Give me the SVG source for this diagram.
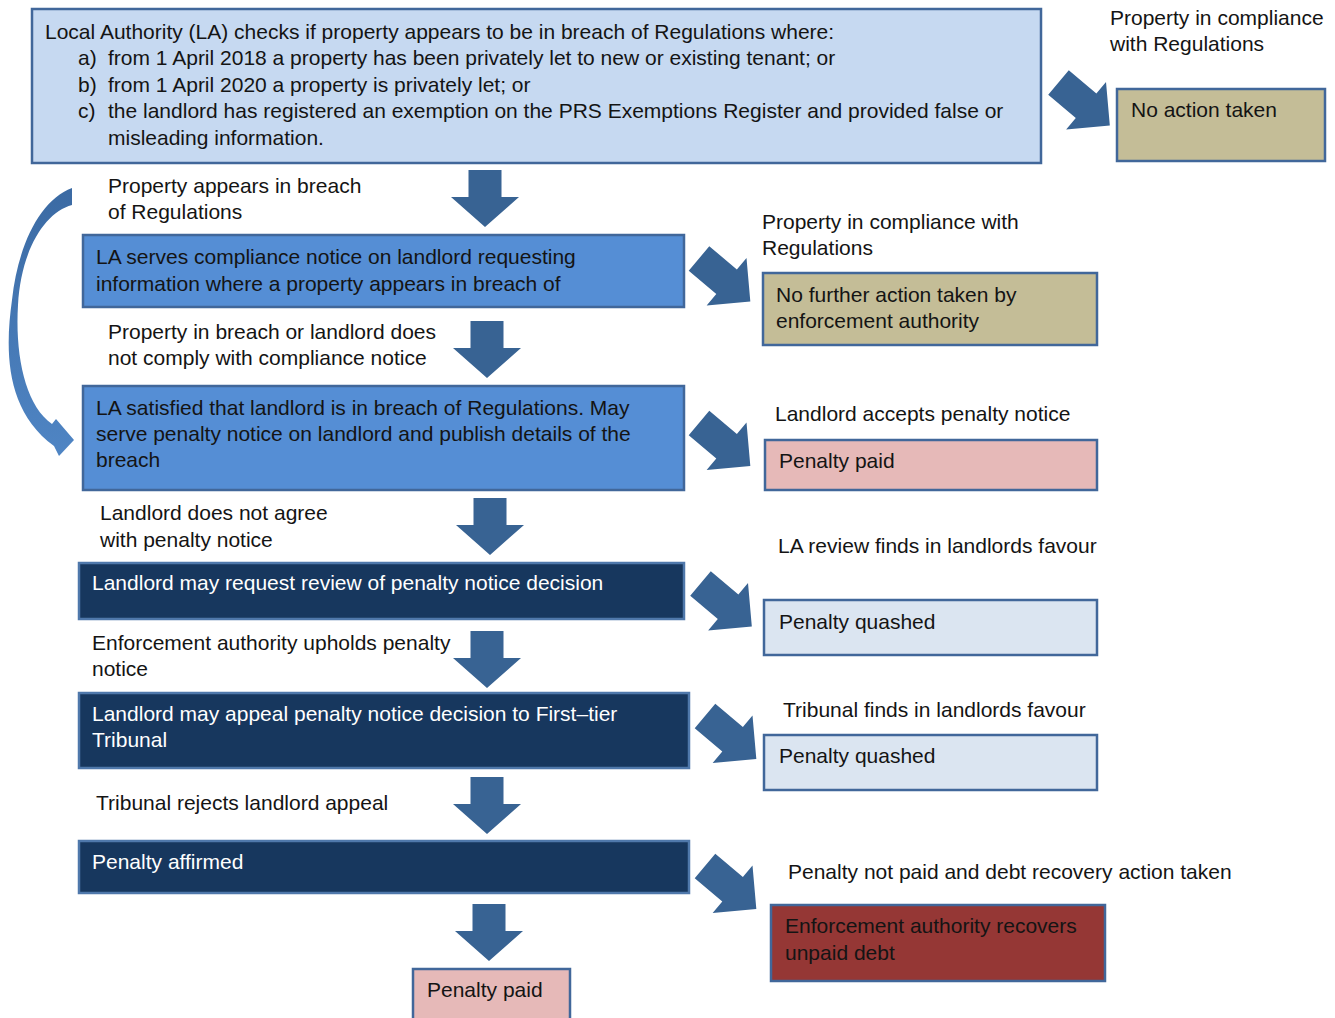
<svg xmlns="http://www.w3.org/2000/svg" width="1335" height="1018" viewBox="0 0 1335 1018">
<style>
text{font-family:"Liberation Sans",Arial,sans-serif;font-size:21px;fill:#141414}
.w{fill:#ffffff}
.bx{stroke:#41679a;stroke-width:2.5}
.top{fill:#c6d9f1}
.mid{fill:#558ed5}
.dark{fill:#17375e;stroke:#4f78ab}
.tan{fill:#c4bd97}
.pink{fill:#e6b9b8}
.lb{fill:#dbe5f1}
.red{fill:#953735}
.arr{fill:#386393}
</style>
<defs>
<path id="down" d="M-16.5,0 H16.5 V27 H34 L0,57 L-34,27 H-16.5 Z"/>
<path id="diag" d="M-16,0 H16 V36 H31 L0,67 L-31,36 H-16 Z"/>
<linearGradient id="cg" x1="0" y1="0" x2="0" y2="1">
<stop offset="0" stop-color="#3b6aa3"/>
<stop offset="1" stop-color="#4f85c4"/>
</linearGradient>
</defs>
<rect width="1335" height="1018" fill="#ffffff"/>

<g id="connectors">
<path fill="url(#cg)" d="M72,188 C40,200 18,245 12,300 C5,350 5,410 54,446 L59,456 L74,440 L56,419 L52,424 C25,405 15,355 18,305 C21,250 45,212 72,205 Z"/>
<use href="#down" class="arr" transform="translate(485,170)"/>
<use href="#down" class="arr" transform="translate(487,321)"/>
<use href="#down" class="arr" transform="translate(490,498)"/>
<use href="#down" class="arr" transform="translate(487,631)"/>
<use href="#down" class="arr" transform="translate(487,777)"/>
<use href="#down" class="arr" transform="translate(489,904)"/>
<use href="#diag" class="arr" transform="translate(1058.5,82.5) rotate(-50)"/>
<use href="#diag" class="arr" transform="translate(699,258.5) rotate(-50)"/>
<use href="#diag" class="arr" transform="translate(699,423) rotate(-50)"/>
<use href="#diag" class="arr" transform="translate(700.5,583.5) rotate(-50)"/>
<use href="#diag" class="arr" transform="translate(705,716) rotate(-50)"/>
<use href="#diag" class="arr" transform="translate(705,866) rotate(-50)"/>
</g>

<g id="n-check">
<rect class="bx top" x="32" y="9" width="1009" height="154"/>
<text x="45" y="39">Local Authority (LA) checks if property appears to be in breach of Regulations where:</text>
<text x="78" y="65">a)</text><text x="108" y="65">from 1 April 2018 a property has been privately let to new or existing tenant; or</text>
<text x="78" y="92">b)</text><text x="108" y="92">from 1 April 2020 a property is privately let; or</text>
<text x="78" y="118">c)</text><text x="108" y="118">the landlord has registered an exemption on the PRS Exemptions Register and provided false or</text>
<text x="108" y="145">misleading information.</text>
</g>

<g id="l-breach">
<text x="108" y="193">Property appears in breach</text>
<text x="108" y="219">of Regulations</text>
</g>

<g id="n-serve">
<rect class="bx mid" x="83" y="235" width="601" height="72"/>
<text x="96" y="264">LA serves compliance notice on landlord requesting</text>
<text x="96" y="291">information where a property appears in breach of</text>
</g>

<g id="l-notcomply">
<text x="108" y="339">Property in breach or landlord does</text>
<text x="108" y="365">not comply with compliance notice</text>
</g>

<g id="n-satisfied">
<rect class="bx mid" x="83" y="386" width="601" height="104"/>
<text x="96" y="415">LA satisfied that landlord is in breach of Regulations. May</text>
<text x="96" y="441">serve penalty notice on landlord and publish details of the</text>
<text x="96" y="467">breach</text>
</g>

<g id="l-notagree">
<text x="100" y="520">Landlord does not agree</text>
<text x="100" y="547">with penalty notice</text>
</g>

<g id="n-review">
<rect class="bx dark" x="79" y="563" width="605" height="56"/>
<text class="w" x="92" y="590">Landlord may request review of penalty notice decision</text>
</g>

<g id="l-upholds">
<text x="92" y="650">Enforcement authority upholds penalty</text>
<text x="92" y="676">notice</text>
</g>

<g id="n-appeal">
<rect class="bx dark" x="79" y="693" width="610" height="75"/>
<text class="w" x="92" y="721">Landlord may appeal penalty notice decision to First–tier</text>
<text class="w" x="92" y="747">Tribunal</text>
</g>

<g id="l-rejects">
<text x="96" y="810">Tribunal rejects landlord appeal</text>
</g>

<g id="n-affirmed">
<rect class="bx dark" x="79" y="841" width="610" height="52"/>
<text class="w" x="92" y="869">Penalty affirmed</text>
</g>

<g id="n-paid-bottom">
<rect class="bx pink" x="413" y="969" width="157" height="60"/>
<text x="427" y="997">Penalty paid</text>
</g>

<g id="l-compliance1">
<text x="1110" y="25">Property in compliance</text>
<text x="1110" y="51">with Regulations</text>
</g>
<g id="n-noaction">
<rect class="bx tan" x="1117" y="89" width="208" height="72"/>
<text x="1131" y="117">No action taken</text>
</g>

<g id="l-compliance2">
<text x="762" y="229">Property in compliance with</text>
<text x="762" y="255">Regulations</text>
</g>
<g id="n-nofurther">
<rect class="bx tan" x="763" y="273" width="334" height="72"/>
<text x="776" y="302">No further action taken by</text>
<text x="776" y="328">enforcement authority</text>
</g>

<g id="l-accepts">
<text x="775" y="421">Landlord accepts penalty notice</text>
</g>
<g id="n-paid-right">
<rect class="bx pink" x="765" y="440" width="332" height="50"/>
<text x="779" y="468">Penalty paid</text>
</g>

<g id="l-lareview">
<text x="778" y="553">LA review finds in landlords favour</text>
</g>
<g id="n-quashed1">
<rect class="bx lb" x="764" y="600" width="333" height="55"/>
<text x="779" y="629">Penalty quashed</text>
</g>

<g id="l-tribunal">
<text x="783" y="717">Tribunal finds in landlords favour</text>
</g>
<g id="n-quashed2">
<rect class="bx lb" x="764" y="735" width="333" height="55"/>
<text x="779" y="763">Penalty quashed</text>
</g>

<g id="l-notpaid">
<text x="788" y="879">Penalty not paid and debt recovery action taken</text>
</g>
<g id="n-recovers">
<rect class="bx red" x="771" y="905" width="334" height="76"/>
<text x="785" y="933">Enforcement authority recovers</text>
<text x="785" y="960">unpaid debt</text>
</g>
</svg>
